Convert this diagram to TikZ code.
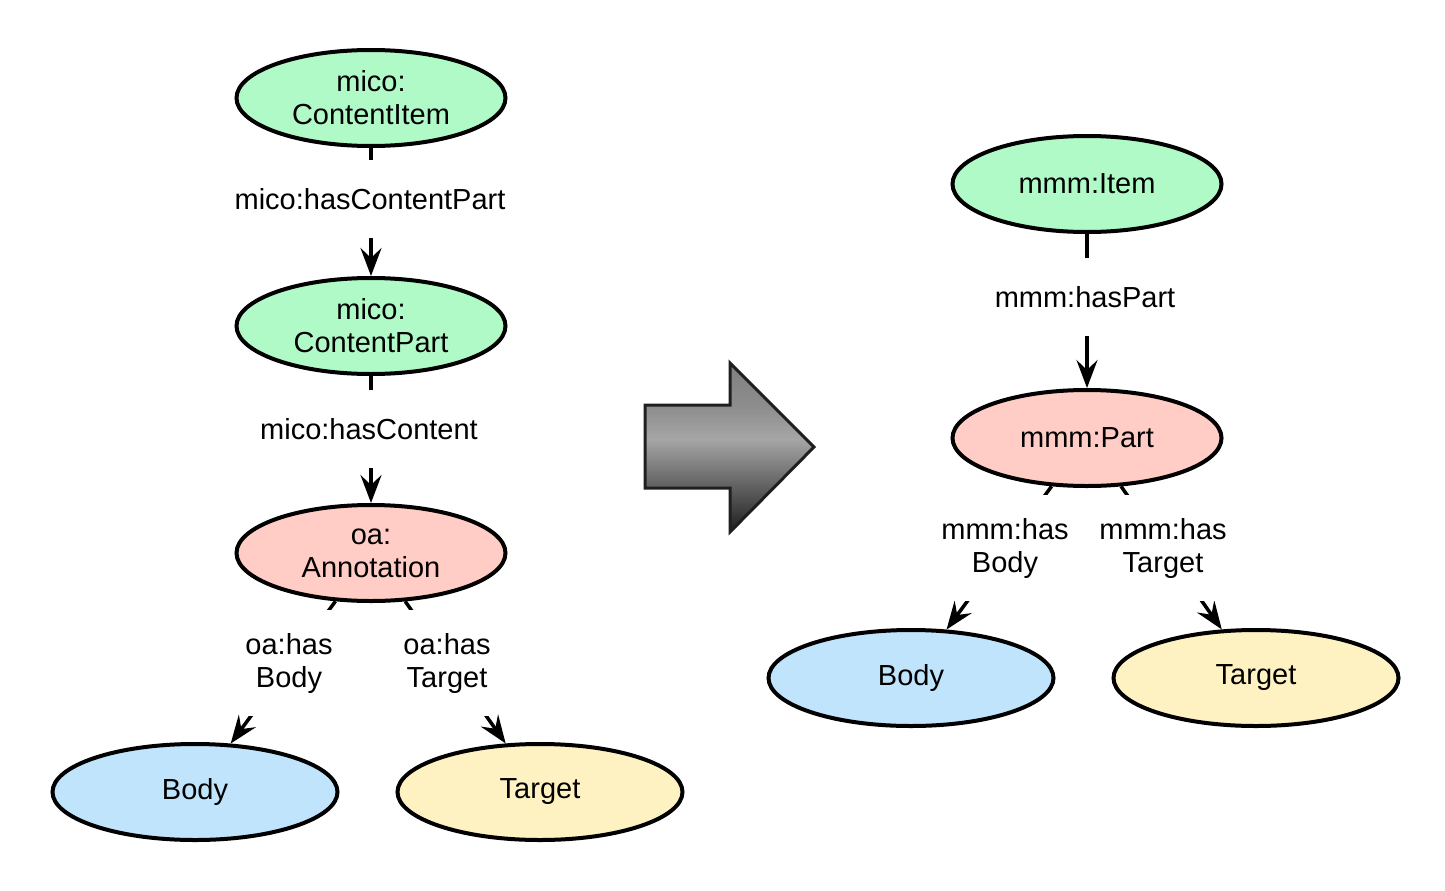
\documentclass[tikz,border=0pt]{standalone}
\usepackage{fontspec}
\setmainfont{Liberation Sans}
\usetikzlibrary{shapes.geometric,arrows.meta}
\definecolor{cgreen}{RGB}{176,250,200}
\definecolor{cpink}{RGB}{255,204,198}
\definecolor{cblue}{RGB}{192,228,252}
\definecolor{cyellow}{RGB}{255,242,194}
\pgfdeclareverticalshading{bigarrowshade}{100bp}{%
  color(0bp)=(black!88); color(25bp)=(black!88); color(38bp)=(black!63);
  color(52.5bp)=(black!35); color(62.5bp)=(black!45); color(75bp)=(black!50); color(100bp)=(black!50)}
\tikzset{
  ent/.style={ellipse, draw=black, line width=4pt, minimum width=269pt, minimum height=96pt, inner sep=0pt, align=center, font=\fontsize{29}{33}\selectfont},
  entw/.style={ent, minimum width=285pt},
  edge/.style={line width=3.5pt, -{Stealth[length=28pt, width=21pt, inset=10pt]}},
  lab/.style={fill=white, inner xsep=2pt, align=center, font=\fontsize{29}{33}\selectfont},
  labone/.style={lab, inner ysep=28pt},
  labtwo/.style={lab, inner ysep=23pt},
}
\begin{document}
\begin{tikzpicture}[x=1pt, y=-1pt]
\useasboundingbox (0,0) rectangle (1445,891);
% left graph
\node[ent, fill=cgreen] (ci) at (371,98) {mico:\\ContentItem};
\node[ent, fill=cgreen] (cp) at (371,326) {mico:\\ContentPart};
\node[ent, fill=cpink] (ann) at (371,553) {oa:\\Annotation};
\node[entw, fill=cblue] (b1) at (195,792) {Body};
\node[entw, fill=cyellow] (t1) at (540,792) {Target};
% right graph
\node[ent, fill=cgreen] (it) at (1087,184) {mmm:Item};
\node[ent, fill=cpink] (pt) at (1087,438) {mmm:Part};
\node[entw, fill=cblue] (b2) at (911,678) {Body};
\node[entw, fill=cyellow] (t2) at (1256,678) {Target};
% edges
\draw[edge] (ci) -- (cp);
\draw[edge] (cp) -- (ann);
\draw[edge] (ann) -- (b1);
\draw[edge] (ann) -- (t1);
\draw[edge] (it) -- (pt);
\draw[edge] (pt) -- (b2);
\draw[edge] (pt) -- (t2);
% labels
\node[labone] (l1) at (370,199) {mico:hasContentPart};
\node[labone] (l2) at (369,429) {mico:hasContent};
\node[labtwo] (l3) at (289,663) {oa:has\\Body};
\node[labtwo] (l4) at (447,663) {oa:has\\Target};
\node[labone] (l5) at (1085,297) {mmm:hasPart};
\node[labtwo] (l6) at (1005,548) {mmm:has\\Body};
\node[labtwo] (l7) at (1163,548) {mmm:has\\Target};
% big arrow
\path[draw=black!88, line width=3pt, shading=bigarrowshade]
  (645,405) -- (730,405) -- (730,363) -- (814,447) -- (730,532) -- (730,488) -- (645,488) -- cycle;
\end{tikzpicture}
\end{document}
